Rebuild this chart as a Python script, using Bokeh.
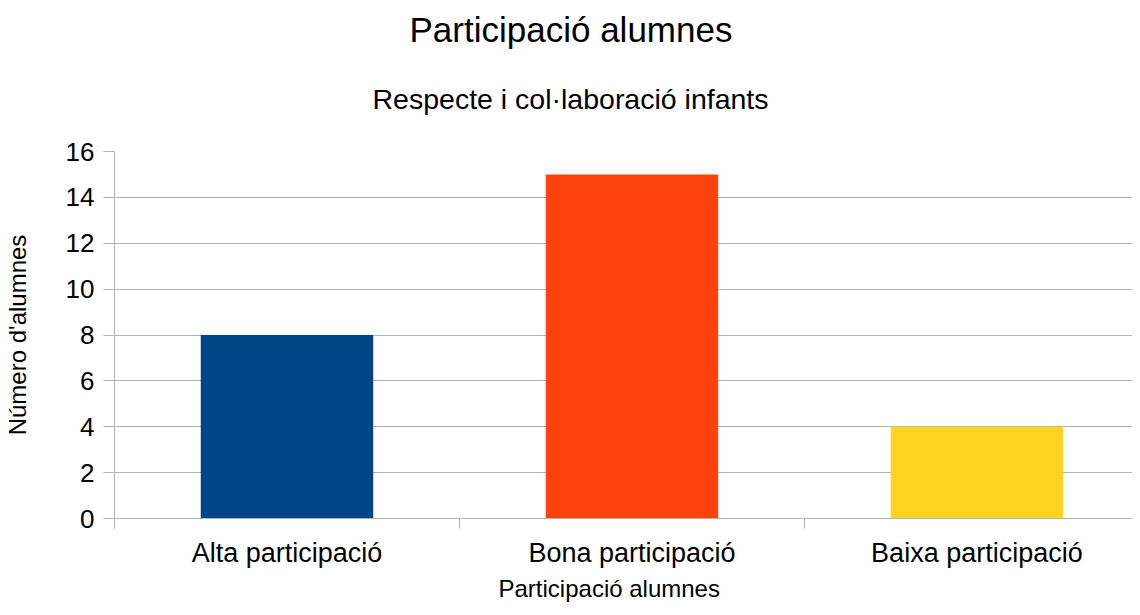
from bokeh.plotting import figure
from bokeh.models import FixedTicker, Title, Range1d, ColumnDataSource
from bokeh.embed import file_html
from bokeh.resources import INLINE

categories = ["Alta participació", "Bona participació", "Baixa participació"]
values = [8, 15, 4]
colors = ["#004586", "#ff420e", "#ffd320"]
y_ticks = [0, 2, 4, 6, 8, 10, 12, 14, 16]

title_text = "Participació alumnes"
subtitle_text = "Respecte i col·laboració infants"
x_label = "Participació alumnes"
y_label = "Número d'alumnes"

FONT = "Liberation Sans"
GRAY = "#b3b3b3"

x_centers = [i + 0.5 for i in range(len(categories))]
src = ColumnDataSource(dict(x=x_centers, top=values, color=colors))

p = figure(width=1132, height=607, x_range=Range1d(0, 2.951), y_range=Range1d(0, 16),
           output_backend="svg", toolbar_location=None,
           min_border_left=114, min_border_right=0, min_border_top=151, min_border_bottom=89)
p.outline_line_color = None
p.background_fill_color = "white"
p.border_fill_color = "white"

p.vbar(x="x", top="top", width=0.5, bottom=0, color="color", line_color=None, source=src)

# y axis
p.yaxis.ticker = FixedTicker(ticks=y_ticks, minor_ticks=[])
p.yaxis.axis_line_color = GRAY
p.yaxis.major_tick_line_color = GRAY
p.yaxis.major_tick_out = 11
p.yaxis.major_tick_in = 0
p.yaxis.minor_tick_line_color = None
p.yaxis.major_label_text_font = FONT
p.yaxis.major_label_text_font_size = "26px"
p.yaxis.major_label_text_color = "black"
p.yaxis.major_label_standoff = 9
p.yaxis.axis_label = y_label
p.yaxis.axis_label_text_font = FONT
p.yaxis.axis_label_text_font_size = "24px"
p.yaxis.axis_label_text_font_style = "normal"
p.yaxis.axis_label_text_color = "black"
p.yaxis.axis_label_standoff = 32

# x axis: labels at centers, minor ticks at category boundaries
p.xaxis.ticker = FixedTicker(ticks=x_centers, minor_ticks=list(range(len(categories) + 1)))
p.xaxis.major_label_overrides = {x_centers[i]: categories[i] for i in range(len(categories))}
p.xaxis.axis_line_color = GRAY
p.xaxis.major_tick_line_color = None
p.xaxis.major_tick_out = 0
p.xaxis.major_tick_in = 0
p.xaxis.minor_tick_line_color = GRAY
p.xaxis.minor_tick_out = 10
p.xaxis.minor_tick_in = 0
p.xaxis.major_label_text_font = FONT
p.xaxis.major_label_text_font_size = "27px"
p.xaxis.major_label_text_color = "black"
p.xaxis.major_label_standoff = 9

p.xgrid.grid_line_color = None
p.ygrid.grid_line_color = GRAY
p.ygrid.ticker = FixedTicker(ticks=y_ticks)

p.add_layout(Title(text=x_label, align="left", text_font=FONT, text_font_size="24px",
                   text_font_style="normal", text_color="black", offset=384, standoff=5), "below")
p.add_layout(Title(text=subtitle_text, align="left", text_font=FONT, text_font_size="28.5px",
                   text_font_style="normal", text_color="black", offset=258, standoff=73), "above")
p.add_layout(Title(text=title_text, align="left", text_font=FONT, text_font_size="35px",
                   text_font_style="normal", text_color="black", offset=295, standoff=-8), "above")

open("out.html", "w").write(file_html(p, INLINE))
